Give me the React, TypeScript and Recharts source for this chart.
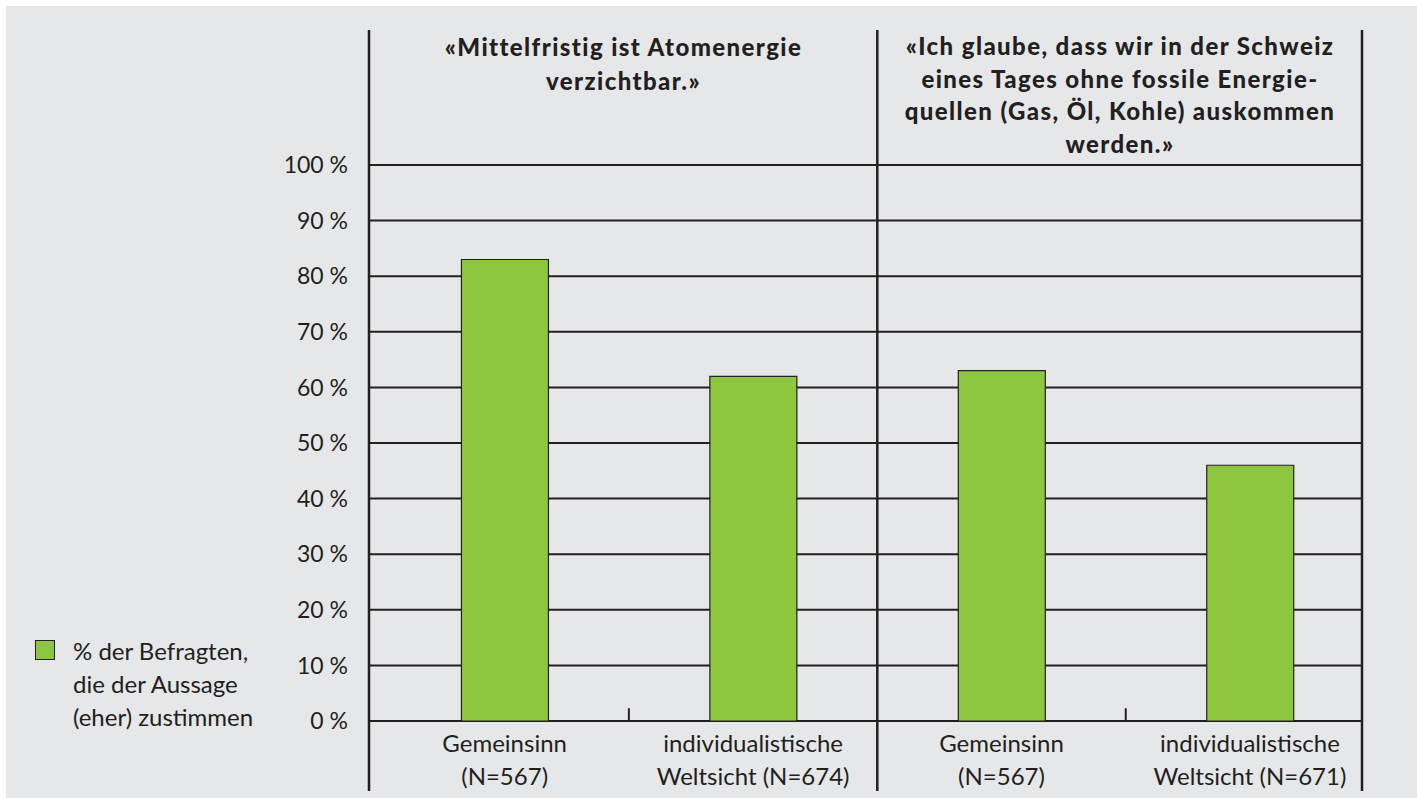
import { Bar, BarChart, CartesianGrid, ReferenceLine, XAxis, YAxis } from "recharts"

// categories (two-line tick labels), one entry per bar
const categoryLines = [
  ["Gemeinsinn", "(N=567)"],
  ["individualistische", "Weltsicht (N=674)"],
  ["Gemeinsinn", "(N=567)"],
  ["individualistische", "Weltsicht (N=671)"],
]

// % der Befragten, die der Aussage (eher) zustimmen
const agreeShares = [83, 62, 63, 46]

const yTicks = [0, 10, 20, 30, 40, 50, 60, 70, 80, 90, 100]

const statementLeft = ["«Mittelfristig ist Atomenergie", "verzichtbar.»"]
const statementRight = [
  "«Ich glaube, dass wir in der Schweiz",
  "eines Tages ohne fossile Energie-",
  "quellen (Gas, Öl, Kohle) auskommen",
  "werden.»",
]

const legendLines = ["% der Befragten,", "die der Aussage", "(eher) zustimmen"]

const data = agreeShares.map((share, i) => ({ pos: i + 0.5, share }))

const INK = "#231f20"
const GREEN = "#8dc63f"
const BG = "#e6e7e8"
const FONT = "Lato, 'Open Sans', sans-serif"

// x domain is slightly wider than the four category slots, like the original
const X_MIN = -0.046
const X_MAX = 3.951
const FRAME_TOP = 124.3
const FRAME_BOTTOM = -12.6

function CategoryTick({ x, y, payload }: any) {
  const lines = categoryLines[Math.floor(payload.value)] ?? []
  return (
    <text x={x} y={y} textAnchor="middle" fill={INK} fontSize={24} fontFamily={FONT}>
      <tspan x={x} dy={31}>{lines[0]}</tspan>
      <tspan x={x} dy={33}>{lines[1]}</tspan>
    </text>
  )
}

function Title({ lines, left, width, lineHeight }: { lines: string[]; left: number; width: number; lineHeight: number }) {
  return (
    <div
      style={{
        position: "absolute",
        left,
        top: 24,
        width,
        textAlign: "center",
        fontFamily: FONT,
        fontWeight: 900,
        fontSize: 24,
        letterSpacing: 1.4,
        lineHeight: `${lineHeight}px`,
        color: INK,
      }}
    >
      {lines.map((l) => (
        <div key={l}>{l}</div>
      ))}
    </div>
  )
}

export default function App() {
  const frameLine = (x: number) => (
    <ReferenceLine
      key={x}
      ifOverflow="visible"
      segment={[
        { x, y: FRAME_BOTTOM },
        { x, y: FRAME_TOP },
      ]}
      stroke={INK}
      strokeWidth={2.5}
    />
  )
  const boundaryTick = (x: number) => (
    <ReferenceLine
      key={`t${x}`}
      ifOverflow="visible"
      segment={[
        { x, y: 0 },
        { x, y: 2.3 },
      ]}
      stroke={INK}
      strokeWidth={2}
    />
  )

  return (
    <div style={{ position: "fixed", left: 0, top: 0, width: 1417, height: 798, background: "#fff" }}>
      <div style={{ position: "absolute", left: 6, top: 6, width: 1411, height: 792, background: BG }}>
        <BarChart
          width={1411}
          height={792}
          data={data}
          margin={{ top: 159, right: 55, bottom: 0, left: 0 }}
        >
          <CartesianGrid vertical={false} stroke={INK} strokeWidth={2} />
          <XAxis
            dataKey="pos"
            type="number"
            domain={[X_MIN, X_MAX]}
            ticks={[0.5, 1.5, 2.5, 3.5]}
            axisLine={false}
            tickLine={false}
            tickSize={0}
            tickMargin={0}
            height={77}
            tick={<CategoryTick />}
            interval={0}
            allowDataOverflow
          />
          <YAxis
            domain={[0, 100]}
            ticks={yTicks}
            width={363}
            axisLine={false}
            tickLine={false}
            tickSize={0}
            tickMargin={21}
            tickFormatter={(v) => `${v} %`}
            tick={{ fill: INK, fontSize: 23, fontFamily: FONT }}
            interval={0}
          />
          <Bar
            dataKey="share"
            fill={GREEN}
            stroke={INK}
            strokeWidth={1.2}
            barSize={87}
            isAnimationActive={false}
          />
          {[X_MIN, 2, X_MAX].map(frameLine)}
          {[1, 3].map(boundaryTick)}
        </BarChart>
        <Title lines={statementLeft} left={363} width={509} lineHeight={34} />
        <Title lines={statementRight} left={872} width={484} lineHeight={32.7} />
        <div
          style={{
            position: "absolute",
            left: 29,
            top: 628,
            display: "flex",
            alignItems: "flex-start",
            fontFamily: FONT,
            fontSize: 24,
            lineHeight: "33px",
            color: INK,
          }}
        >
          <div
            style={{
              width: 18,
              height: 18,
              marginTop: 6,
              marginRight: 18,
              background: GREEN,
              border: `1px solid ${INK}`,
            }}
          />
          <div>
            {legendLines.map((l) => (
              <div key={l}>{l}</div>
            ))}
          </div>
        </div>
      </div>
    </div>
  )
}
